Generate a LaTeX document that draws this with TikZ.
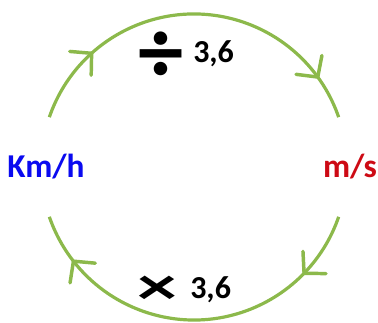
\documentclass[tikz,border=0pt]{standalone}
\usepackage{fontspec}
\setmainfont{Carlito}
\usetikzlibrary{calc}
\definecolor{arcgreen}{RGB}{140,185,75}
\definecolor{unitblue}{RGB}{10,10,240}
\definecolor{unitred}{RGB}{205,10,20}

\begin{document}
\begin{tikzpicture}[
    x=0.75pt, y=0.75pt,
    unit/.style={font=\fontsize{25}{30}\selectfont\bfseries, inner sep=0pt},
    factor/.style={font=\fontsize{24}{30}\selectfont\bfseries, inner sep=0pt},
    cyclearc/.style={draw=arcgreen, line width=2.4pt},
    chevron/.style={draw=arcgreen, line width=2.6pt, line cap=round, line join=round}
]
    \useasboundingbox (0,0) rectangle (378,323);

    % Centre of the cycle
    \coordinate (c) at (194,156);

    % Units
    \node[unit, text=unitblue] (kmh) at (46,156) {Km/h};
    \node[unit, text=unitred] (ms) at (350,156) {m/s};

    % Factors
    \node[inner sep=0pt, font=\fontsize{68}{70}\selectfont\bfseries] (div) at (161,266) {÷};
    \node[factor, anchor=west] (divval) at (193,269) {3,6};
    \node[inner sep=0pt, font=\fontsize{40}{40}\selectfont\bfseries, xscale=1.5] (mul) at (157,33) {×};
    \node[factor, anchor=west] (mulval) at (190,33) {3,6};

    % Arc ends
    \coordinate (kmhtop) at ($(c)+(161:153)$);
    \coordinate (mstop) at ($(c)+(19:153)$);
    \coordinate (msbot) at ($(c)+(-19:153)$);
    \coordinate (kmhbot) at ($(c)+(-161:153)$);

    % Arcs
    \draw[cyclearc] (kmhtop) arc[start angle=161, end angle=19, radius=153];
    \draw[cyclearc] (msbot) arc[start angle=-19, end angle=-161, radius=153];

    % Arrow heads (clockwise)
    \foreach \a in {132,36,-44,-142}
        \draw[chevron, shift={(c)}, rotate=\a] (137,15) -- (153,0) -- (169,15);
\end{tikzpicture}
\end{document}
